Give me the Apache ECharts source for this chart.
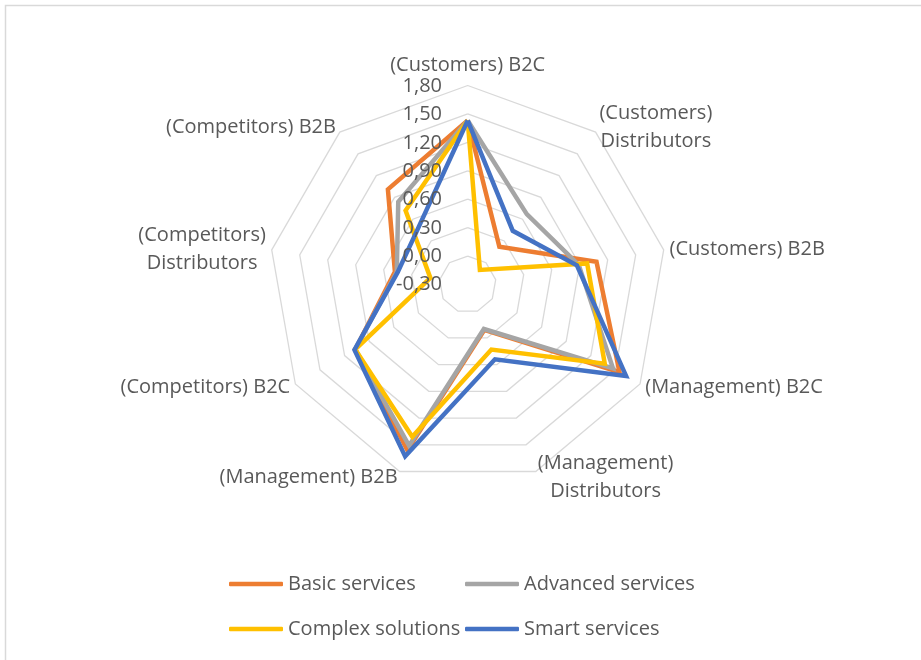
<!DOCTYPE html>
<html><head><meta charset="utf-8">
<script src="https://cdn.jsdelivr.net/npm/echarts@6/dist/echarts.min.js"></script>
<style>html,body{margin:0;padding:0;background:#fff}#c{width:921px;height:660px}</style>
</head><body><div id="c"></div>
<script>
// Categories in clockwise order starting at the top (as in the reference)
const categories = [
  '(Customers) B2C',
  '(Customers)\nDistributors',
  '(Customers) B2B',
  '(Management) B2C',
  '(Management)\nDistributors',
  '(Management) B2B',
  '(Competitors) B2C',
  '(Competitors)\nDistributors',
  '(Competitors) B2B'
];
const seriesNames = ['Basic services', 'Advanced services', 'Complex solutions', 'Smart services'];
const basicServices    = [1.43, 0.22, 1.08, 1.55, 0.21, 1.56, 1.07, 0.48, 1.01];
const advancedServices = [1.43, 0.67, 0.89, 1.47, 0.20, 1.51, 1.07, 0.46, 0.84];
const complexSolutions = [1.43, -0.10, 0.98, 1.37, 0.43, 1.41, 1.07, 0.10, 0.72];
const smartServices    = [1.43, 0.44, 0.87, 1.63, 0.54, 1.63, 1.08, 0.45, 0.50];
const axisMin = -0.3, axisMax = 1.8, axisStep = 0.3;

const colors = ['#ED7D31', '#A5A5A5', '#FFC000', '#4472C4'];
const FONT = "'Open Sans', sans-serif";
const TXT = '#595959';

// ECharts radar runs counter-clockwise; reorder so the picture runs clockwise
const ccw = [0, 8, 7, 6, 5, 4, 3, 2, 1];
const reorder = arr => ccw.map(i => arr[i]);
const allData = [basicServices, advancedServices, complexSolutions, smartServices];

const CX = 467.7, CY = 284.5, R = 199;

const chart = echarts.init(document.getElementById('c'), null, {renderer: 'canvas'});
chart.setOption({
  backgroundColor: '#fff',
  animation: false,
  graphic: [{
    type: 'rect', silent: true, z: -10,
    shape: {x: 5.5, y: 5.5, width: 1000, height: 1000},
    style: {fill: 'none', stroke: '#d9d9d9', lineWidth: 1.5}
  }],
  radar: {
    center: [CX, CY],
    radius: R,
    startAngle: 90,
    splitNumber: 7,
    shape: 'polygon',
    indicator: reorder(categories).map(n => ({name: n, min: axisMin, max: axisMax})),
    nameGap: 6,
    axisName: {
      color: TXT, fontFamily: FONT, fontSize: 20,
      formatter: function (name) {
        return name.split('\n').map(l => '{c|' + l + '}').join('\n');
      },
      rich: {c: {color: TXT, fontFamily: FONT, fontSize: 20, lineHeight: 28, align: 'center'}}
    },
    axisLine: {show: false},
    axisTick: {show: false},
    axisLabel: {show: false},
    splitLine: {lineStyle: {color: '#d9d9d9', width: 1.3}},
    splitArea: {show: false}
  },
  grid: {left: 450, top: CY - R + 1, width: 10, height: R - 1, containLabel: false},
  xAxis: {type: 'value', show: false},
  yAxis: {
    type: 'value', min: axisMin, max: axisMax, interval: axisStep, z: 10,
    axisLine: {show: false}, axisTick: {show: false}, splitLine: {show: false},
    axisLabel: {
      color: TXT, fontFamily: FONT, fontSize: 20, margin: 8,
      formatter: v => v.toFixed(2).replace('.', ',')
    }
  },
  legend: [
    {
      orient: 'vertical', left: 229, top: 572, itemGap: 21, padding: 0,
      itemWidth: 54, itemHeight: 4.5, icon: 'roundRect',
      data: [seriesNames[0], seriesNames[2]],
      textStyle: {color: TXT, fontFamily: FONT, fontSize: 20, lineHeight: 24}
    },
    {
      orient: 'vertical', left: 465, top: 572, itemGap: 21, padding: 0,
      itemWidth: 54, itemHeight: 4.5, icon: 'roundRect',
      data: [seriesNames[1], seriesNames[3]],
      textStyle: {color: TXT, fontFamily: FONT, fontSize: 20, lineHeight: 24}
    }
  ],
  series: seriesNames.map((name, i) => ({
    type: 'radar',
    name: name,
    symbol: 'none',
    z: 2 + i,
    color: colors[i],
    lineStyle: {color: colors[i], width: 4.5, join: 'miter', miterLimit: 6},
    itemStyle: {color: colors[i]},
    data: [{name: name, value: reorder(allData[i])}]
  }))
});
</script>
</body></html>
